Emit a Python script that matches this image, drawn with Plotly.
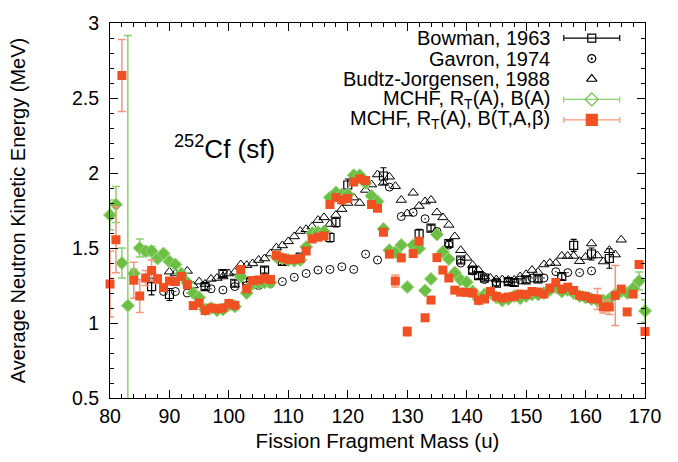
import plotly.graph_objects as go

# ---------------- data ----------------
bow_A = [87, 90, 96, 99, 101, 103, 106, 109, 112, 117, 118, 120, 126, 132, 134, 137, 139, 141, 142, 143,
         145, 147, 148, 150, 152, 156, 158, 161, 164]
bow_E = [1.243, 1.19, 1.243, 1.33, 1.265, 1.276, 1.353, 1.41, 1.44, 1.57, 1.67, 1.92, 1.98, 1.594, 1.632,
         1.53, 1.42, 1.353, 1.316, 1.30, 1.265, 1.276, 1.27, 1.287, 1.294, 1.31, 1.518, 1.46, 1.43]
bow_err = [0.055, 0.04, 0.02, 0.02, 0.02, 0.02, 0.02, 0.02, 0.02, 0.03, 0.03, 0.04, 0.055, 0.03, 0.02,
           0.02, 0.02, 0.02, 0.02, 0.02, 0.02, 0.02, 0.02, 0.02, 0.02, 0.02, 0.04, 0.04, 0.065]

gav_A = [89, 91, 93, 97, 99, 101, 103, 105, 107, 109, 111, 113, 115, 117, 119, 121, 123, 125, 127, 129,
         131, 133, 135, 137, 139, 141, 143, 145, 147, 149, 151, 153, 155, 157, 159, 161]
gav_E = [1.21, 1.21, 1.20, 1.228, 1.22, 1.243, 1.25, 1.25, 1.262, 1.276, 1.305, 1.33, 1.353, 1.357, 1.375,
         1.357, 1.459, 1.42, 1.906, 1.71, 1.737, 1.695, 1.61, 1.52, 1.40, 1.347, 1.29, 1.272, 1.276, 1.287,
         1.30, 1.30, 1.342, 1.336, 1.336, 1.347]

bj_A = list(range(90, 167))
bj_E = [1.342, 1.33, 1.33, 1.347, 1.25, 1.276, 1.26, 1.294, 1.30, 1.31,
        1.33, 1.34, 1.39, 1.386, 1.397, 1.42, 1.43, 1.463, 1.503, 1.517,
        1.544, 1.577, 1.613, 1.625, 1.643, 1.686, 1.704, 1.66, 1.72, 1.759,
        1.80, 1.836, 1.80, 1.887, 1.923, 1.99, 1.934, 1.975, 1.912, 1.82,
        1.73, 1.868, 1.78, 1.81, 1.82, 1.737, 1.704, 1.654, 1.577, 1.485,
        1.434, 1.386, 1.353, 1.31, 1.30, 1.29, 1.29, 1.287, 1.287, 1.31,
        1.325, 1.353, 1.34, 1.39, 1.40, 1.40, 1.447, 1.447, 1.447, 1.412,
        1.44, 1.53, 1.45, 1.41, 1.485, 1.456, 1.555]

grn_A = list(range(80, 171))
grn_E = [1.72, 1.79, 1.40, 1.116, 1.33, 1.50, 1.478, 1.48, 1.43, 1.463,
         1.41, 1.39, 1.33, 1.27, 1.20, 1.17, 1.09, 1.10, 1.085, 1.09,
         1.12, 1.11, 1.31, 1.20, 1.26, 1.265, 1.27, 1.27, 1.44, 1.43,
         1.42, 1.415, 1.42, 1.507, 1.60, 1.605, 1.61, 1.836, 1.87, 1.857,
         1.857, 1.985, 1.985, 1.934, 1.847, 1.81, 1.627, 1.485, 1.47, 1.52,
         1.24, 1.518, 1.496, 1.217, 1.294, 1.59, 1.474, 1.426, 1.336, 1.288,
         1.272, 1.21, 1.16, 1.19, 1.20, 1.17, 1.15, 1.16, 1.18, 1.165,
         1.18, 1.19, 1.19, 1.20, 1.22, 1.24, 1.21, 1.22, 1.20, 1.18,
         1.17, 1.16, 1.15, 1.15, 1.16, 1.19, 1.21, 1.20, 1.23, 1.28,
         1.08]
grn_err = [0.10, 0.12, 0.10, 1.80, 0.03, 0.06, 0.03, 0.03, 0.02, 0.02] + [0.01] * 79 + [0.06, 0.075]

red_A = [80, 81, 82] + list(range(84, 171))
red_E = [1.26, 1.555, 2.65, 1.285, 1.18, 1.30, 1.35, 1.294, 1.237,
         1.28, 1.276, 1.31, 1.255, 1.116, 1.133, 1.083, 1.10, 1.095, 1.10,
         1.13, 1.118, 1.357, 1.228, 1.283, 1.287, 1.298, 1.29, 1.452, 1.434,
         1.425, 1.425, 1.43, 1.48, 1.56, 1.572, 1.58, 1.79, 1.836, 1.82,
         1.83, 1.94, 1.96, 1.95, 1.79, 1.765, 1.605, 1.459, 1.28, 1.434,
         0.943, 1.463, 1.546, 1.035, 1.153, 1.436, 1.353, 1.30, 1.219, 1.206,
         1.204, 1.20, 1.151, 1.16, 1.21, 1.178, 1.167, 1.173, 1.178, 1.193,
         1.19, 1.21, 1.206, 1.193, 1.233, 1.27, 1.226, 1.239, 1.217, 1.184,
         1.178, 1.163, 1.16, 1.107, 1.107, 1.184, 1.226, 1.074, 1.193, 1.39,
         0.943]
red_err = [0.22, 0.22, 0.24, 0.12, 0.11, 0.05, 0.07, 0.03, 0.02] + [0.01] * 35 + \
          [0.01, 0.01, 0.01, 0.04, 0.01, 0.03] + [0.01] * 31 + [0.07, 0.04, 0.05, 0.2]

legend_labels = ["Bowman, 1963", "Gavron, 1974", "Budtz-Jorgensen, 1988",
                 "MCHF, R<sub>T</sub>(A), B(A)", "MCHF, R<sub>T</sub>(A), B(T,A,β)"]

# ---------------- style ----------------
RED = "rgb(240,80,34)"
RED_ERR = "rgb(245,150,120)"
GRN = "rgb(108,190,69)"
GRN_ERR = "rgb(140,208,110)"
FONT = "Liberation Sans, Arial, sans-serif"

fig = go.Figure()

fig.add_trace(go.Scatter(
    x=bow_A, y=bow_E, mode="markers", cliponaxis=False,
    marker=dict(symbol="square-open", size=8, color="black", line=dict(width=1.2)),
    error_y=dict(type="data", array=bow_err, color="black", thickness=1.2, width=3)))
fig.add_trace(go.Scatter(
    x=gav_A, y=gav_E, mode="markers", cliponaxis=False,
    marker=dict(symbol="circle-open-dot", size=8, color="black", line=dict(width=1))))
fig.add_trace(go.Scatter(
    x=bj_A, y=bj_E, mode="markers", cliponaxis=False,
    marker=dict(symbol="triangle-up-open", size=9, color="black", line=dict(width=1))))
fig.add_trace(go.Scatter(
    x=grn_A, y=grn_E, mode="markers", cliponaxis=False,
    marker=dict(symbol="diamond", size=10, color=GRN, line=dict(width=1, color="rgb(150,215,120)")),
    error_y=dict(type="data", array=grn_err, color=GRN_ERR, thickness=1.5, width=4)))
fig.add_trace(go.Scatter(
    x=red_A, y=red_E, mode="markers", cliponaxis=False,
    marker=dict(symbol="square", size=9, color=RED, line=dict(width=0)),
    error_y=dict(type="data", array=red_err, color=RED_ERR, thickness=1.5, width=4)))

# ---------------- custom legend (gnuplot style: text left of symbol) ----------------
leg_x = 0.9005
leg_rows = [0.9597, 0.9052, 0.8507, 0.7962, 0.7416]
leg_half = 0.0523
leg_syms = [("square-open", 8, "black", "black", True),
            ("circle-open-dot", 8, "black", None, False),
            ("triangle-up-open", 9, "black", None, False),
            ("diamond-open", 10, GRN, GRN_ERR, True),
            ("square", 11, RED, RED_ERR, True)]
for (sym, sz, col, ecol, has_err), yy in zip(leg_syms, leg_rows):
    fig.add_trace(go.Scatter(
        x=[leg_x], y=[yy], xaxis="x2", yaxis="y2", mode="markers",
        marker=dict(symbol=sym, size=sz, color=col, line=dict(width=1.2, color=col)),
        error_x=dict(type="constant", value=leg_half, color=ecol, thickness=1.2, width=3,
                     visible=has_err)))
for lab, yy in zip(legend_labels, leg_rows):
    fig.add_annotation(text=lab, xref="paper", yref="paper", x=0.8258, y=yy,
                       xanchor="right", yanchor="middle", showarrow=False,
                       font=dict(family=FONT, size=20, color="black"))

fig.add_annotation(text="<sup>252</sup>Cf (sf)", xref="x", yref="y", x=90.4, y=2.17,
                   xanchor="left", yanchor="middle", showarrow=False,
                   font=dict(family=FONT, size=26, color="black"))

axis_common = dict(showline=True, linecolor="black", linewidth=1.2, mirror="allticks",
                   ticks="inside", ticklen=8, tickwidth=1, tickcolor="black",
                   showgrid=False, zeroline=False,
                   tickfont=dict(family=FONT, size=19.5, color="black"))

fig.update_layout(
    width=678, height=462,
    margin=dict(l=110, r=33, t=18, b=64),
    paper_bgcolor="white", plot_bgcolor="white",
    showlegend=False,
    font=dict(family=FONT, color="black"),
    xaxis=dict(range=[80, 170], dtick=10, tick0=80,
               minor=dict(ticks="inside", dtick=2, ticklen=4, tickcolor="black"),
               title=dict(text="Fission Fragment Mass (u)", standoff=8,
                          font=dict(family=FONT, size=20.5)),
               **axis_common),
    yaxis=dict(range=[0.5, 3], dtick=0.5, tick0=0.5,
               minor=dict(ticks="inside", dtick=0.1, ticklen=4, tickcolor="black"),
               title=dict(text="Average Neutron Kinetic Energy (MeV)", standoff=40,
                          font=dict(family=FONT, size=20)),
               ticklabelstandoff=6,
               **axis_common),
    xaxis2=dict(overlaying="x", range=[0, 1], visible=False, anchor="y2"),
    yaxis2=dict(overlaying="y", range=[0, 1], visible=False, anchor="x2"),
)

fig.write_html("out.html")
